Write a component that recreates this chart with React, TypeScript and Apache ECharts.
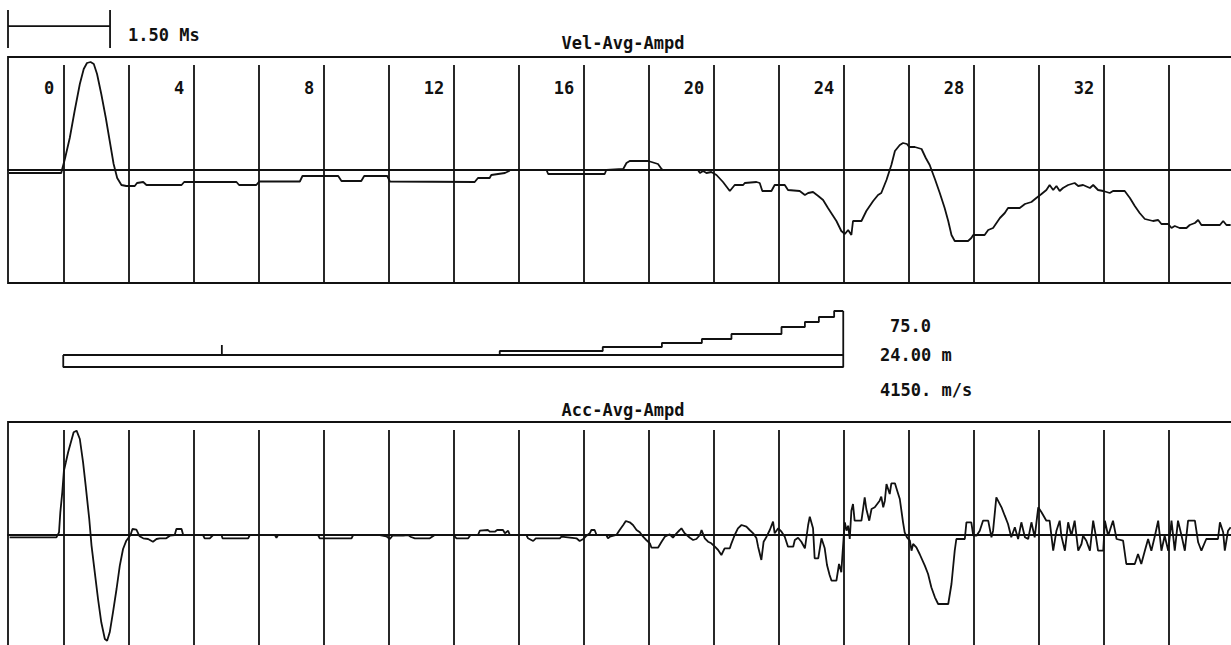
import React, { useEffect, useRef } from 'react';
import * as echarts from 'echarts';

// depth (m) of the vertical grid lines, and the labelled depths
const gridDepths = [0, 2, 4, 6, 8, 10, 12, 14, 16, 18, 20, 22, 24, 26, 28, 30, 32, 34];
const labelDepths = [0, 4, 8, 12, 16, 20, 24, 28, 32];
const tickLabels = ['0', '4', '8', '12', '16', '20', '24', '28', '32'];

const panelTitles = ['Vel-Avg-Ampd', 'Acc-Avg-Ampd'];
const scaleText = '1.50 Ms';
const infoTexts = ['75.0', '24.00 m', '4150. m/s'];

// velocity trace: [depth m, amplitude]
const velPoints: [number, number][] = [
  [-1.67, -3], [-0.06, -3], [-0.04, 0], [0.05, 11], [0.2, 32], [0.35, 59], [0.51, 86], [0.63, 101],
  [0.73, 107], [0.84, 108], [0.94, 106], [1.04, 96], [1.17, 76], [1.31, 52], [1.43, 29], [1.55, 6],
  [1.66, -8], [1.79, -15], [1.94, -16], [2.2, -16], [2.27, -13], [2.46, -12], [2.56, -15], [3.64, -15],
  [3.72, -12], [5.33, -12], [5.41, -15], [5.94, -15], [6.03, -11.5], [7.28, -11.5], [7.36, -6], [8.46, -6],
  [8.56, -11], [9.17, -11], [9.26, -6], [9.97, -6], [10.05, -11.5], [12.66, -12], [12.76, -8], [13.12, -8],
  [13.17, -5], [13.59, -3], [13.72, -1], [13.74, 0], [14.87, 0], [14.92, -4], [16.66, -4], [16.71, 0],
  [17.23, 1], [17.33, 7], [17.43, 9], [18.0, 9], [18.3, 6], [18.41, 1], [18.46, 0], [19.53, 0],
  [19.59, -3], [19.69, -1], [19.79, -3], [19.94, -2], [20.1, -5], [20.3, -12], [20.51, -21], [20.66, -15],
  [20.92, -15], [20.97, -13], [21.33, -12], [21.43, -13], [21.51, -21], [21.79, -21], [21.89, -15], [22.2, -15],
  [22.3, -20], [22.66, -21], [22.82, -25], [22.92, -23], [23.07, -22], [23.23, -26], [23.38, -30], [23.53, -38],
  [23.79, -51], [23.94, -61], [24.05, -64], [24.15, -60], [24.25, -65], [24.3, -51], [24.56, -51], [24.71, -41],
  [24.92, -31], [25.07, -25], [25.17, -23], [25.33, -10], [25.48, 5], [25.59, 19], [25.74, 25], [25.84, 27],
  [25.96, 26], [26.03, 23], [26.2, 23], [26.41, 21], [26.54, 12], [26.66, 5], [26.82, -9], [26.97, -23],
  [27.12, -38], [27.23, -51], [27.33, -65], [27.43, -71], [27.84, -71], [27.94, -68], [28.0, -65], [28.35, -65],
  [28.46, -60], [28.61, -58], [28.82, -48], [28.97, -43], [29.07, -38], [29.43, -38], [29.59, -34], [29.79, -32],
  [29.94, -28], [30.1, -24], [30.25, -20], [30.35, -15], [30.46, -20], [30.56, -16], [30.66, -21], [30.76, -18],
  [30.92, -15], [31.12, -13], [31.23, -16], [31.38, -15], [31.59, -18], [31.69, -15], [31.84, -20], [32.0, -21],
  [32.2, -23], [32.3, -21], [32.66, -21], [32.82, -28], [32.97, -36], [33.12, -43], [33.28, -49], [33.53, -51],
  [33.69, -50], [33.79, -54], [34.0, -54], [34.1, -58], [34.2, -56], [34.35, -58], [34.56, -58], [34.66, -55],
  [34.82, -53], [34.92, -50], [35.02, -55], [35.59, -55], [35.69, -51], [35.79, -55], [35.92, -55],
];

// acceleration trace: [depth m, amplitude]
const accPoints: [number, number][] = [
  [-1.65, -2.3], [-0.21, -2.3], [-0.13, 2.7], [-0.09, 22.7], [-0.03, 42.7], [0.02, 64.3], [0.08, 72.7], [0.15, 82.7],
  [0.22, 91], [0.32, 102.7], [0.41, 104.3], [0.51, 96], [0.61, 72.7], [0.69, 49.3], [0.8, 16], [0.87, -10.7],
  [0.97, -37.3], [1.07, -64], [1.17, -87.3], [1.28, -104], [1.35, -105.7], [1.43, -97.3], [1.53, -77.3], [1.64, -54],
  [1.74, -30.7], [1.84, -14], [1.94, -5.7], [2.07, 0], [2.13, 6], [2.25, 5.3], [2.35, -1.3], [2.46, -3.3],
  [2.61, -4], [2.76, -6.7], [2.87, -4], [2.97, -3.3], [3.17, -3.3], [3.28, -0.7], [3.43, 0], [3.48, 6],
  [3.64, 6], [3.69, 0], [4.3, 0], [4.35, -3.3], [4.51, -3.3], [4.61, 0], [4.87, 0], [4.9, -3.3],
  [5.69, -3.3], [5.74, 0], [6.51, 0], [6.56, -2.7], [6.61, 0], [7.84, 0], [7.89, -3.3], [8.87, -3.3],
  [8.92, 0], [9.74, 0], [9.94, -1.3], [10.05, -4], [10.13, -0.7], [10.46, -0.7], [10.61, 0], [10.7, -2],
  [10.82, -3.3], [11.28, -3.3], [11.43, 0], [12.0, 0], [12.1, -3.3], [12.46, -3.3], [12.53, 0], [12.76, 0],
  [12.82, 4.3], [13.07, 5], [13.12, 3.3], [13.28, 3.3], [13.35, 5], [13.53, 5], [13.59, 1.7], [13.69, 4.3],
  [13.74, 0], [14.25, 0], [14.3, -3.3], [14.46, -6], [14.54, -3.3], [15.28, -3.3], [15.33, -1.7], [15.79, -3.3],
  [15.89, -6], [16.0, -4], [16.1, -0.7], [16.2, 1.7], [16.25, 5], [16.35, 5], [16.41, 0], [16.71, 0],
  [16.76, -3.3], [16.82, -1.7], [17.02, 0], [17.12, 5], [17.23, 10], [17.31, 14], [17.43, 12.7], [17.53, 10],
  [17.64, 5], [17.74, 2.7], [17.84, -1.7], [17.94, -5], [18.05, -8.3], [18.1, -12.7], [18.3, -12.7], [18.41, -6.7],
  [18.51, -1.7], [18.66, 0.7], [18.76, -2.7], [18.87, 1.7], [18.97, 5], [19.02, 6.7], [19.12, 1.7], [19.28, -2.7],
  [19.38, -5], [19.48, -4], [19.59, 0], [19.64, 5], [19.74, -3.3], [19.84, -6.7], [19.94, -8.3], [20.05, -11.7],
  [20.15, -15], [20.25, -20], [20.35, -13.3], [20.51, -13.3], [20.56, -8.3], [20.66, 0], [20.76, 6.7], [20.87, 10],
  [21.02, 8.3], [21.12, 5], [21.23, 1.7], [21.33, -3.3], [21.38, -11.7], [21.48, -25], [21.55, -6.7], [21.64, -1.7],
  [21.74, 5], [21.84, 13.3], [21.89, 1.7], [22.0, 6.7], [22.1, 3.3], [22.2, -1.7], [22.3, -11.7], [22.46, -11.7],
  [22.51, -5], [22.61, -2.7], [22.71, -6.7], [22.82, -13.3], [22.92, 10], [22.97, 18.3], [23.07, 6.7], [23.12, -23.3],
  [23.23, -23.3], [23.33, -3.3], [23.43, -13.3], [23.5, -30], [23.58, -40], [23.64, -45.7], [23.79, -45.7], [23.87, -29],
  [23.94, -37.3], [23.97, -22.3], [24.02, 1], [24.05, 12.7], [24.1, 4.3], [24.15, 9.3], [24.2, -4], [24.25, 24.3],
  [24.3, 31], [24.35, 14.3], [24.56, 14.3], [24.66, 37.7], [24.71, 26], [24.8, 14.3], [24.87, 26], [24.97, 27.7],
  [25.12, 34.3], [25.17, 38.3], [25.23, 27.7], [25.28, 34.3], [25.33, 51], [25.43, 41], [25.48, 51.7], [25.59, 51.7],
  [25.66, 44.3], [25.74, 36], [25.84, 12.7], [25.89, 2.7], [25.96, -2.3], [26.05, -5.7], [26.1, -15.7], [26.15, -9],
  [26.25, -12.3], [26.35, -19], [26.51, -30.7], [26.61, -39], [26.71, -52.3], [26.82, -62.3], [26.92, -69], [27.23, -69],
  [27.33, -49], [27.43, -15.7], [27.48, -4], [27.74, -4], [27.79, 12.7], [27.94, 12.7], [28.0, -0.7], [28.1, -0.7],
  [28.2, 4.3], [28.3, 14.3], [28.46, 14.3], [28.56, -2.3], [28.61, 4.3], [28.71, 37.7], [28.87, 27.7], [28.97, 19.3],
  [29.07, 11], [29.17, -2.3], [29.28, 7.7], [29.38, -4], [29.48, 12.7], [29.59, -2.3], [29.69, -4], [29.79, 12.7],
  [29.89, -2.3], [30.0, 27.7], [30.1, 22.7], [30.25, 14.3], [30.35, 14.3], [30.46, -15.7], [30.56, 4.3], [30.66, 14.3],
  [30.71, -0.7], [30.82, -15.7], [30.92, 12.7], [31.02, -0.7], [31.12, 14.3], [31.23, -15.7], [31.33, -9], [31.38, -0.7],
  [31.48, -5.7], [31.59, -15.7], [31.69, 14.3], [31.77, -0.7], [31.84, -15.7], [32.0, -15.7], [32.05, 14.3], [32.15, -0.7],
  [32.3, 14.3], [32.41, -4], [32.61, -5.7], [32.71, -29], [32.97, -29], [33.07, -19], [33.17, -29], [33.28, -15.7],
  [33.38, -4], [33.48, -15.7], [33.59, -0.7], [33.69, 14.3], [33.79, -15.7], [33.89, -0.7], [34.0, -15.7], [34.1, 14.3],
  [34.2, -15.7], [34.3, 14.3], [34.41, -0.7], [34.51, -15.7], [34.61, 14.3], [34.82, 14.3], [34.92, -7.3], [35.02, -15.7],
  [35.17, -4], [35.53, -4], [35.59, 12.7], [35.69, 2.7], [35.74, -15.7], [35.84, 4.3], [35.92, 7.7],
];

// pile profile (impedance steps): step k starts at profileDepth[k] with level profileLevel[k]
const profileDepth = [0, 13.43, 16.6, 18.42, 19.65, 20.56, 22.1, 22.82, 23.25, 23.72, 24];
const profileLevel = [15, 19, 23, 27, 31, 36, 43, 48, 53, 59, 59];
const shaftTop = 15;
const shaftBottom = 3;
const pileLength = 24;
const markerDepth = 4.88;
const markerTop = 25;

// 1.50 ms scale bar, in depth units
const scaleBarDepth = [-1.7, 1.44];

export default function App() {
  const ref = useRef<HTMLDivElement>(null);

  useEffect(() => {
    const chart = echarts.init(ref.current!, null, { renderer: 'svg' });
    const ink = '#111111';
    const mono = '"DejaVu Sans Mono", monospace';
    const font = `bold 17px ${mono}`;
    const X_MIN = -1.7;
    const X_MAX = 36;
    const left = 8;
    const width = (X_MAX - X_MIN) * 32.5;
    const lw = 1.8;

    const grids = [
      { left, top: 57, width, height: 226, show: true, borderColor: ink, borderWidth: lw },
      { left, top: 422, width, height: 226, show: true, borderColor: ink, borderWidth: lw },
      { left, top: 300, width, height: 70, show: false },
      { left, top: 10, width, height: 38, show: false },
    ].map((g) => ({ ...g, outerBoundsMode: 'none' }));

    const xAxes = [0, 1, 2, 3].map((i) => ({
      type: 'value',
      gridIndex: i,
      min: X_MIN,
      max: X_MAX,
      show: i < 2,
      axisLine: { show: true, onZero: true, lineStyle: { color: ink, width: lw } },
      axisTick: { show: false },
      axisLabel: { show: false },
      splitLine: { show: false },
    }));
    const yRanges = [[-113, 113], [-113, 113], [0, 70], [-1, 1]];
    const yAxes = yRanges.map((r, i) => ({
      type: 'value',
      gridIndex: i,
      min: r[0],
      max: r[1],
      show: false,
      splitLine: { show: false },
    }));

    const gridMarks = {
      silent: true,
      symbol: ['none', 'none'],
      label: { show: false },
      lineStyle: { color: ink, width: lw, type: 'solid' },
      data: gridDepths.map((d) => [{ coord: [d, -113] }, { coord: [d, 105] }]),
    };

    const lineBase = {
      type: 'line',
      symbol: 'none',
      silent: true,
      lineStyle: { color: ink, width: lw },
    };

    const stepData = [[0, shaftTop], ...profileDepth.slice(1).map((d, i) => [d, profileLevel[i + 1]])];

    chart.setOption({
      animation: false,
      backgroundColor: '#ffffff',
      grid: grids,
      xAxis: xAxes,
      yAxis: yAxes,
      series: [
        { ...lineBase, xAxisIndex: 0, yAxisIndex: 0, data: velPoints, markLine: gridMarks },
        {
          type: 'scatter',
          xAxisIndex: 0,
          yAxisIndex: 0,
          silent: true,
          symbolSize: 0,
          itemStyle: { color: ink, opacity: 1 },
          data: labelDepths.map((d) => [d, 82]),
          label: {
            show: true,
            position: 'left',
            distance: 9,
            formatter: (p: any) => tickLabels[p.dataIndex],
            color: ink,
            opacity: 1,
            fontFamily: mono,
            fontWeight: 'bold',
            fontSize: 17,
          },
        },
        { ...lineBase, xAxisIndex: 1, yAxisIndex: 1, data: accPoints, markLine: gridMarks },
        // profile outline
        {
          ...lineBase,
          xAxisIndex: 2,
          yAxisIndex: 2,
          clip: false,
          data: [[0, shaftTop], [0, shaftBottom], [pileLength, shaftBottom], [pileLength, profileLevel[profileLevel.length - 1]]],
        },
        { ...lineBase, xAxisIndex: 2, yAxisIndex: 2, clip: false, data: [[0, shaftTop], [pileLength, shaftTop]] },
        { ...lineBase, xAxisIndex: 2, yAxisIndex: 2, clip: false, step: 'end', data: stepData },
        { ...lineBase, xAxisIndex: 2, yAxisIndex: 2, clip: false, data: [[markerDepth, shaftTop], [markerDepth, markerTop]] },
        // scale bar
        {
          ...lineBase,
          xAxisIndex: 3,
          yAxisIndex: 3,
          clip: false,
          data: [
            [scaleBarDepth[0], 1], [scaleBarDepth[0], -1], [scaleBarDepth[0], 0.15],
            [scaleBarDepth[1], 0.15], [scaleBarDepth[1], 1], [scaleBarDepth[1], -1],
          ],
        },
      ],
      graphic: [
        { type: 'text', x: 128, y: 35, style: { text: scaleText, fill: ink, font, textVerticalAlign: 'middle' } },
        { type: 'text', x: 623, y: 43, style: { text: panelTitles[0], fill: ink, font, textAlign: 'center', textVerticalAlign: 'middle' } },
        { type: 'text', x: 623, y: 410, style: { text: panelTitles[1], fill: ink, font, textAlign: 'center', textVerticalAlign: 'middle' } },
        { type: 'text', x: 890, y: 326, style: { text: infoTexts[0], fill: ink, font, textVerticalAlign: 'middle' } },
        { type: 'text', x: 880, y: 355, style: { text: infoTexts[1], fill: ink, font, textVerticalAlign: 'middle' } },
        { type: 'text', x: 880, y: 390, style: { text: infoTexts[2], fill: ink, font, textVerticalAlign: 'middle' } },
      ],
    });

    return () => chart.dispose();
  }, []);

  return (
    <div
      ref={ref}
      style={{ position: 'absolute', left: 0, top: 0, width: 1231, height: 645, background: '#ffffff' }}
    />
  );
}
